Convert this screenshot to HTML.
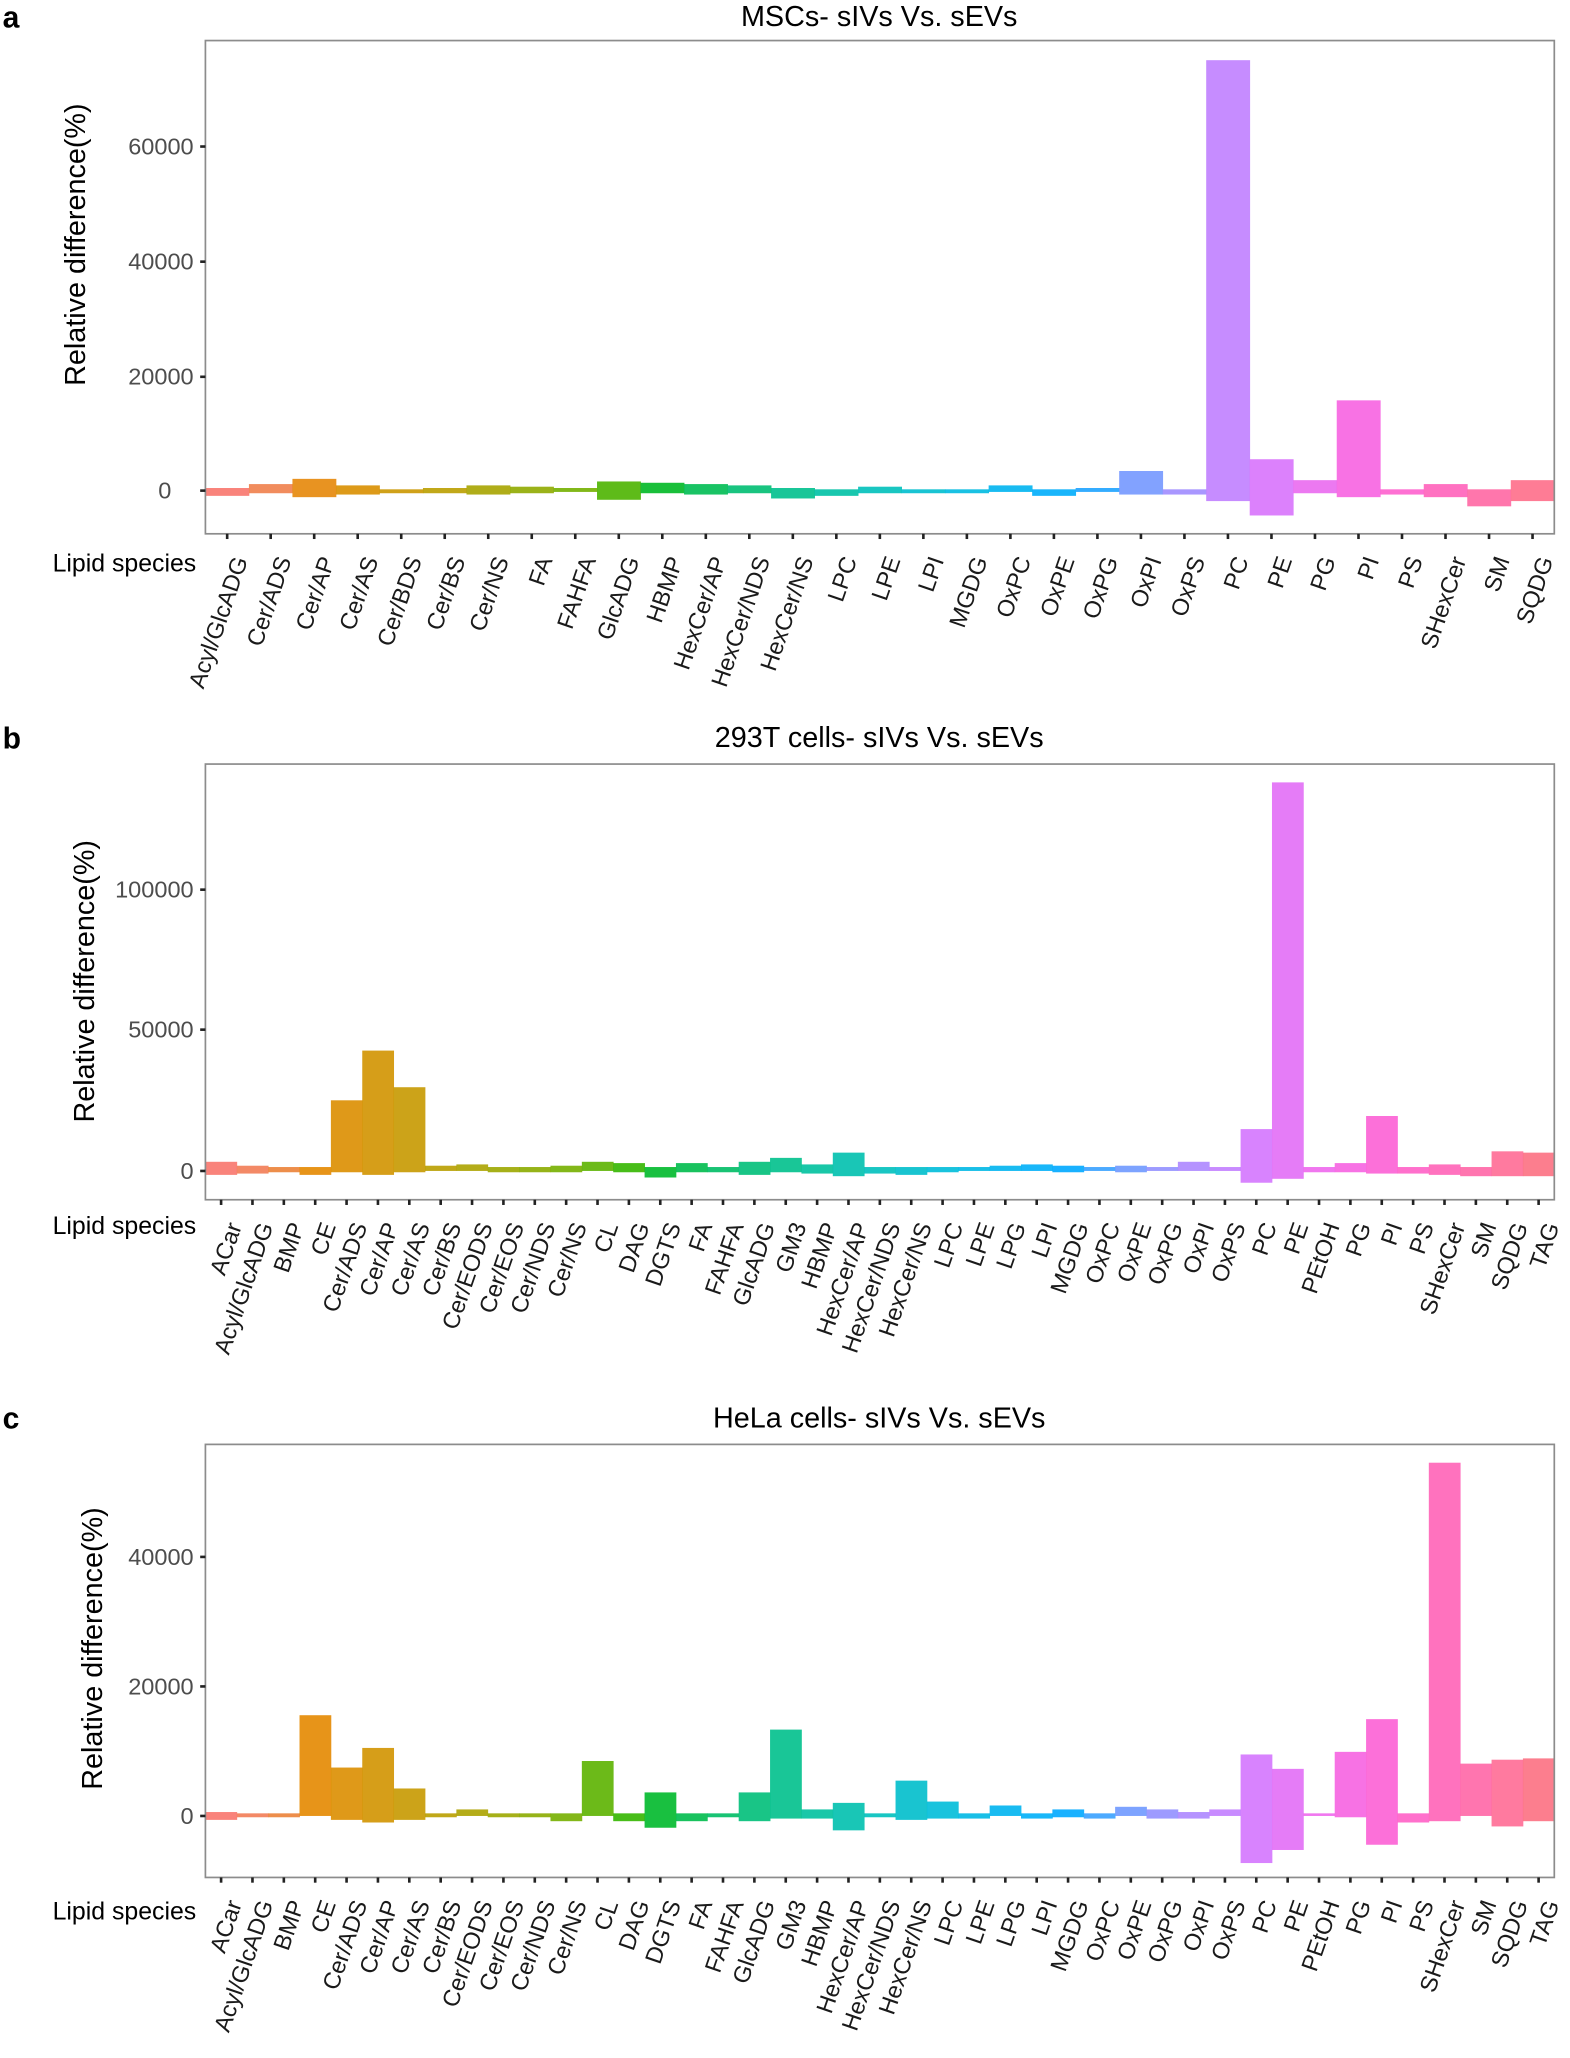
<!DOCTYPE html>
<html><head><meta charset="utf-8"><style>
html,body{margin:0;padding:0;background:#fff;}
svg{display:block;font-family:"Liberation Sans",Arial,sans-serif;}
.t{font-size:18px;fill:#4d4d4d;}
.x{font-size:18px;fill:#1a1a1a;}
.xs{font-size:19px;fill:#000;}
.yl{font-size:22px;fill:#000;}
.ti{font-size:22px;fill:#000;}
.pl{font-size:23px;font-weight:bold;fill:#000;}
</style></head><body>
<svg id="s" width="1570" height="2058" viewBox="0 0 1200 1573" xmlns="http://www.w3.org/2000/svg">
<rect width="1200" height="1573" fill="#fff"/>
<!-- Panel a -->
<text class="pl" x="2" y="21">a</text>
<text class="ti" x="672" y="20" text-anchor="middle">MSCs- sIVs Vs. sEVs</text>
<text class="yl" transform="translate(65,187) rotate(-90)" text-anchor="middle">Relative difference(%)</text>
<text class="t" x="148" y="118" text-anchor="end">60000</text>
<text class="t" x="148" y="206" text-anchor="end">40000</text>
<text class="t" x="148" y="294" text-anchor="end">20000</text>
<text class="t" x="131" y="381" text-anchor="end">0</text>
<text class="xs" x="150" y="437" text-anchor="end">Lipid species</text>
<g id="ga"></g>
<g id="la" class="x"><text>Acyl/GlcADG</text><text>Cer/ADS</text><text>Cer/AP</text><text>Cer/AS</text><text>Cer/BDS</text><text>Cer/BS</text><text>Cer/NS</text><text>FA</text><text>FAHFA</text><text>GlcADG</text><text>HBMP</text><text>HexCer/AP</text><text>HexCer/NDS</text><text>HexCer/NS</text><text>LPC</text><text>LPE</text><text>LPI</text><text>MGDG</text><text>OxPC</text><text>OxPE</text><text>OxPG</text><text>OxPI</text><text>OxPS</text><text>PC</text><text>PE</text><text>PG</text><text>PI</text><text>PS</text><text>SHexCer</text><text>SM</text><text>SQDG</text></g>
<!-- Panel b -->
<text class="pl" x="2" y="572">b</text>
<text class="ti" x="672" y="571" text-anchor="middle">293T cells- sIVs Vs. sEVs</text>
<text class="yl" transform="translate(72,750) rotate(-90)" text-anchor="middle">Relative difference(%)</text>
<text class="t" x="148" y="686" text-anchor="end">100000</text>
<text class="t" x="148" y="793" text-anchor="end">50000</text>
<text class="t" x="148" y="901" text-anchor="end">0</text>
<text class="xs" x="150" y="943" text-anchor="end">Lipid species</text>
<g id="gb"></g>
<g id="lb" class="x"><text>ACar</text><text>Acyl/GlcADG</text><text>BMP</text><text>CE</text><text>Cer/ADS</text><text>Cer/AP</text><text>Cer/AS</text><text>Cer/BS</text><text>Cer/EODS</text><text>Cer/EOS</text><text>Cer/NDS</text><text>Cer/NS</text><text>CL</text><text>DAG</text><text>DGTS</text><text>FA</text><text>FAHFA</text><text>GlcADG</text><text>GM3</text><text>HBMP</text><text>HexCer/AP</text><text>HexCer/NDS</text><text>HexCer/NS</text><text>LPC</text><text>LPE</text><text>LPG</text><text>LPI</text><text>MGDG</text><text>OxPC</text><text>OxPE</text><text>OxPG</text><text>OxPI</text><text>OxPS</text><text>PC</text><text>PE</text><text>PEtOH</text><text>PG</text><text>PI</text><text>PS</text><text>SHexCer</text><text>SM</text><text>SQDG</text><text>TAG</text></g>
<!-- Panel c -->
<text class="pl" x="2" y="1092">c</text>
<text class="ti" x="672" y="1091" text-anchor="middle">HeLa cells- sIVs Vs. sEVs</text>
<text class="yl" transform="translate(78,1260) rotate(-90)" text-anchor="middle">Relative difference(%)</text>
<text class="t" x="148" y="1196" text-anchor="end">40000</text>
<text class="t" x="148" y="1295" text-anchor="end">20000</text>
<text class="t" x="148" y="1394" text-anchor="end">0</text>
<text class="xs" x="150" y="1467" text-anchor="end">Lipid species</text>
<g id="gc"></g>
<g id="lc" class="x"><text>ACar</text><text>Acyl/GlcADG</text><text>BMP</text><text>CE</text><text>Cer/ADS</text><text>Cer/AP</text><text>Cer/AS</text><text>Cer/BS</text><text>Cer/EODS</text><text>Cer/EOS</text><text>Cer/NDS</text><text>Cer/NS</text><text>CL</text><text>DAG</text><text>DGTS</text><text>FA</text><text>FAHFA</text><text>GlcADG</text><text>GM3</text><text>HBMP</text><text>HexCer/AP</text><text>HexCer/NDS</text><text>HexCer/NS</text><text>LPC</text><text>LPE</text><text>LPG</text><text>LPI</text><text>MGDG</text><text>OxPC</text><text>OxPE</text><text>OxPG</text><text>OxPI</text><text>OxPS</text><text>PC</text><text>PE</text><text>PEtOH</text><text>PG</text><text>PI</text><text>PS</text><text>SHexCer</text><text>SM</text><text>SQDG</text><text>TAG</text></g>
</svg>
<script>
var NS="http://www.w3.org/2000/svg";
function hcl(h){var L=65,C=100,r=h*Math.PI/180,u=C*Math.cos(r),v=C*Math.sin(r);
var Y=Math.pow((L+16)/116,3),un=0.1978398,vn=0.4683363,up=u/(13*L)+un,vp=v/(13*L)+vn;
var X=Y*9*up/(4*vp),Z=Y*(12-3*up-20*vp)/(4*vp);
var R=3.2406*X-1.5372*Y-0.4986*Z,G=-0.9689*X+1.8758*Y+0.0415*Z,B=0.0557*X-0.2040*Y+1.0570*Z;
function g(c){c=c<=0.0031308?12.92*c:1.055*Math.pow(c,1/2.4)-0.055;return Math.round(255*Math.max(0,Math.min(1,c)));}
return "rgb("+g(R)+","+g(G)+","+g(B)+")";}
function el(n,a,p){var e=document.createElementNS(NS,n);for(var k in a)e.setAttribute(k,a[k]);p.appendChild(e);return e;}
function panel(gid,lid,top,bot,zero,ticks,data){
var g=document.getElementById(gid),n=data.length,x0=157,x1=1188,w=(x1-x0)/n;
for(var i=0;i<n;i++){var d=data[i];
el("rect",{x:x0+i*w,y:d[0],width:w+0.3,height:Math.max(1,d[1]-d[0]),fill:hcl(15+i*360/n),opacity:0.9},g);}
el("rect",{x:x0,y:top,width:x1-x0,height:bot-top,fill:"none",stroke:"#8c8c8c","stroke-width":1.3},g);
ticks.forEach(function(t){el("line",{x1:x0-4,x2:x0,y1:t,y2:t,stroke:"#222","stroke-width":2},g);});
var ls=document.getElementById(lid).children;
for(var i=0;i<n;i++){var cx=x0+(i+0.5)*w;
el("line",{x1:cx,x2:cx,y1:bot,y2:bot+4,stroke:"#222","stroke-width":2},g);
ls[i].setAttribute("text-anchor","end");
ls[i].setAttribute("transform","translate("+(cx+16)+","+(bot+20)+") rotate(-71)");}
}
panel("ga","la",31,408,375,[112,200,288,375],[[373,379],[370,377],[366,380],[371,378],[374,377],[373,377],[371,378],[372,377],[373,376],[368,382],[369,377],[370,378],[371,377],[373,381],[374,379],[372,377],[374,377],[374,377],[371,376],[374,379],[373,376],[360,378],[374,378],[46,383],[351,394],[367,377],[306,380],[374,378],[370,380],[374,387],[367,383]]);
panel("gb","lb",584,917,895,[680,787,895],[[888,898],[891,897],[892,896],[892,898],[841,896],[803,898],[831,896],[891,895],[890,895],[892,896],[892,896],[891,896],[888,895],[889,896],[892,900],[889,896],[892,896],[888,898],[885,896],[890,897],[881,899],[892,897],[892,898],[892,896],[892,895],[891,895],[890,895],[891,896],[892,895],[891,896],[892,895],[888,895],[892,895],[863,904],[598,901],[892,896],[889,896],[853,897],[892,897],[890,898],[892,899],[880,899],[881,899]]);
panel("gc","lc",1104,1435,1388,[1190,1289,1388],[[1385,1391],[1386,1389],[1386,1389],[1311,1388],[1351,1391],[1336,1393],[1367,1391],[1386,1389],[1383,1388],[1386,1389],[1386,1389],[1386,1392],[1346,1388],[1386,1392],[1370,1397],[1386,1392],[1386,1389],[1370,1392],[1322,1390],[1383,1390],[1378,1399],[1386,1389],[1361,1391],[1377,1390],[1386,1390],[1380,1388],[1386,1390],[1383,1389],[1386,1390],[1381,1388],[1383,1390],[1385,1390],[1383,1388],[1341,1424],[1352,1414],[1386,1388],[1339,1389],[1314,1410],[1386,1393],[1118,1392],[1348,1388],[1345,1396],[1344,1392]]);
</script>
</body></html>
